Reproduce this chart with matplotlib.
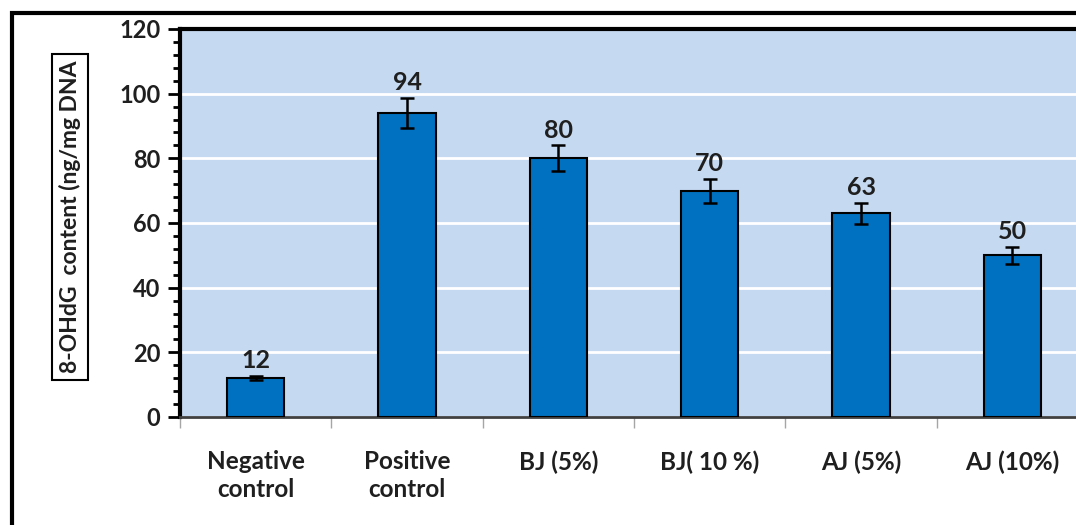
import matplotlib.pyplot as plt
from matplotlib.patches import Rectangle
from matplotlib.ticker import MultipleLocator

# categories and values
groups = ['Negative\ncontrol', 'Positive\ncontrol', 'BJ (5%)', 'BJ( 10 %)', 'AJ (5%)', 'AJ (10%)']
values = [12, 94, 80, 70, 63, 50]
errors = [0.7, 4.6, 4.0, 3.7, 3.3, 2.7]

plt.rcParams['font.family'] = ['Lato', 'DejaVu Sans']

fig = plt.figure(figsize=(10.76, 5.25), dpi=100)

# outer frame (right and bottom edges are cut off in the original)
fig.patches.append(Rectangle((12 / 1076, -0.1), 1.2, 1.1 - 13 / 525,
                             transform=fig.transFigure, fill=False,
                             edgecolor='black', linewidth=3))

ax = fig.add_axes([180 / 1076, 1 - 417 / 525, 908 / 1076, 388 / 525])
ax.set_facecolor('#c5d9f1')

x = range(len(groups))
ax.bar(x, values, width=0.38, color='#0070c0', edgecolor='black', linewidth=1.5,
       yerr=errors, capsize=5, error_kw={'elinewidth': 1.8, 'capthick': 1.8, 'ecolor': 'black'},
       zorder=3)

for i, v in enumerate(values):
    ax.text(i, v + errors[i] + 1.2, str(v), ha='center', va='bottom',
            fontsize=18, fontweight='bold', color='#1f1f1f', zorder=4)

ax.set_xlim(-0.5, 5.5)
ax.set_ylim(0, 120)
ax.yaxis.set_major_locator(MultipleLocator(20))
ax.yaxis.set_minor_locator(MultipleLocator(4))
ax.grid(axis='y', color='white', linewidth=2, zorder=0)

# category boundaries as x ticks
ax.set_xticks([i - 0.5 for i in range(len(groups) + 1)], minor=False)
ax.set_xticklabels([])
ax.tick_params(axis='x', which='major', length=8, width=1, color='#a6a6a6', direction='out')
ax.set_xticks(list(x), minor=True)
ax.set_xticklabels(groups, minor=True, fontsize=17.5, fontweight='bold', color='#1f1f1f',
                   linespacing=1.25)
ax.tick_params(axis='x', which='minor', length=0, pad=24)

ax.tick_params(axis='y', which='major', length=9, width=2, labelsize=17, pad=5)
ax.tick_params(axis='y', which='minor', length=5, width=2)
for lbl in ax.get_yticklabels():
    lbl.set_fontweight('bold')
    lbl.set_color('#1f1f1f')

ax.spines['left'].set_linewidth(3)
ax.spines['top'].set_linewidth(3)
ax.spines['bottom'].set_linewidth(2)
ax.spines['bottom'].set_color('#404040')
ax.spines['right'].set_visible(False)

# y label in a box
fig.text(70 / 1076, 1 - 217 / 525, '8-OHdG  content (ng/mg DNA', rotation=90,
         ha='center', va='center', fontsize=16.5, fontweight='bold', color='#1f1f1f',
         bbox=dict(boxstyle='square,pad=0.3', facecolor='white', edgecolor='black', linewidth=1.5))

plt.savefig('out.png', dpi=100)
